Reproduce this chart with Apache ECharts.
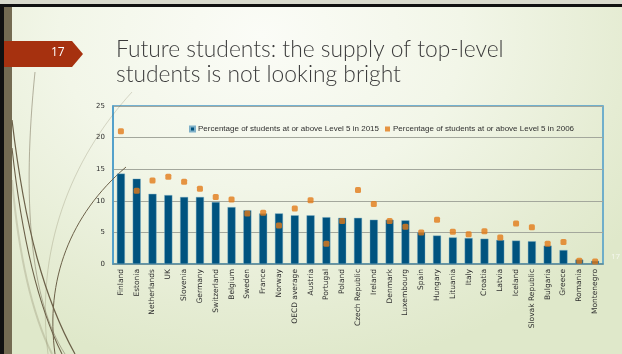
<!DOCTYPE html>
<html>
<head>
<meta charset="utf-8">
<script src="https://cdn.jsdelivr.net/npm/echarts@6/dist/echarts.min.js"></script>
<style>
  html, body { margin: 0; padding: 0; }
  #slide {
    width: 622px; height: 354px;
    background: radial-gradient(ellipse 72% 95% at 42% 10%, #fbfcf7 0%, #f2f6e8 45%, #e5ecd3 82%, #dfe8ca 100%);
  }
</style>
</head>
<body>
<div id="slide"></div>
<script>
// Countries in display order
const countries = ['Finland', 'Estonia', 'Netherlands', 'UK', 'Slovenia', 'Germany', 'Switzerland',
  'Belgium', 'Sweden', 'France', 'Norway', 'OECD average', 'Austria', 'Portugal', 'Poland',
  'Czech Republic', 'Ireland', 'Denmark', 'Luxembourg', 'Spain', 'Hungary', 'Lituania', 'Italy',
  'Croatia', 'Latvia', 'Iceland', 'Slovak Republic', 'Bulgaria', 'Greece', 'Romania', 'Montenegro'];

// Share of students at or above Level 5 (%)
const pct2015 = [14.3, 13.5, 11.1, 10.9, 10.6, 10.6, 9.8, 9.0, 8.5, 8.0, 8.0, 7.7, 7.7, 7.4, 7.3,
  7.3, 7.0, 7.0, 6.9, 5.0, 4.5, 4.2, 4.1, 4.0, 3.8, 3.7, 3.6, 2.9, 2.2, 0.7, 0.5];
const pct2006 = [21.0, 11.6, 13.2, 13.8, 13.0, 11.9, 10.6, 10.2, 8.0, 8.1, 6.1, 8.8, 10.1, 3.2, 6.8,
  11.7, 9.5, 6.8, 5.9, 5.0, 7.0, 5.1, 4.7, 5.2, 4.2, 6.4, 5.8, 3.2, 3.5, 0.5, 0.4];

const seriesNames = ['Percentage of students at or above Level 5 in 2015',
  'Percentage of students at or above Level 5 in 2006'];
const titleLines = ['Future students: the supply of top-level', 'students is not looking bright'];
const slideNumber = '17';
const yAxisRange = { min: 0, max: 25, interval: 5 };

const chart = echarts.init(document.getElementById('slide'), null, { renderer: 'canvas' });

const curveColor = '#6b6048';
const fadedCurve = 'rgba(120,110,80,0.25)';

chart.setOption({
  backgroundColor: 'transparent',
  animation: false,
  grid: {
    left: 113, top: 106, width: 490, height: 158,
    show: true, borderColor: '#4a9bc9', borderWidth: 1.5, backgroundColor: 'transparent'
  },
  legend: {
    top: 120, left: 184,
    itemWidth: 5, itemHeight: 5, itemGap: 6,
    textStyle: { fontSize: 8, color: '#2f2f2f', fontFamily: 'Liberation Sans', padding: [0, 0, 0, -2] },
    data: [
      { name: seriesNames[0], icon: 'rect' },
      { name: seriesNames[1], icon: 'rect' }
    ]
  },
  xAxis: {
    type: 'category',
    data: countries,
    axisTick: { show: false },
    axisLine: { lineStyle: { color: '#5f8f9c', width: 1.5 } },
    axisLabel: {
      rotate: 90, interval: 0, fontSize: 7.5, color: '#2f2f2f', margin: 5,
      fontFamily: 'DejaVu Sans'
    }
  },
  yAxis: {
    type: 'value',
    min: yAxisRange.min, max: yAxisRange.max, interval: yAxisRange.interval,
    axisLine: { show: true, lineStyle: { color: '#4a9bc9', width: 1.5 } },
    axisTick: { show: false },
    axisLabel: { fontSize: 7, color: '#2f2f2f', margin: 8, fontFamily: 'DejaVu Sans' },
    splitLine: { lineStyle: { color: '#a3a79c', width: 1.2 } }
  },
  series: [
    {
      name: seriesNames[0],
      type: 'bar',
      data: pct2015,
      barWidth: 8,
      itemStyle: { color: '#00537f', borderColor: '#7fb0c8', borderWidth: 0.4 }
    },
    {
      name: seriesNames[1],
      type: 'scatter',
      data: pct2006,
      symbol: 'roundRect',
      symbolSize: 6,
      z: 3,
      itemStyle: { color: '#e27a18' }
    }
  ],
  graphic: [
    // slide frame
    { type: 'rect', shape: { x: 0, y: 0, width: 622, height: 4 }, style: { fill: '#d9dacd' }, z: 10 },
    { type: 'rect', shape: { x: 0, y: 4, width: 622, height: 3 }, style: { fill: '#111111' }, z: 10 },
    { type: 'rect', shape: { x: 0, y: 4, width: 4, height: 350 }, style: { fill: '#111111' }, z: 10 },
    { type: 'rect', shape: { x: 4, y: 7, width: 8, height: 347 }, style: { fill: '#746b52' }, z: 10 },
    // decorative curves
    { type: 'bezierCurve', shape: { x1: 35, y1: 72, x2: 65, y2: 354, cpx1: 22, cpy1: 200, cpx2: 30, cpy2: 300 },
      style: { stroke: 'rgba(110,100,75,0.6)', lineWidth: 0.8, fill: null }, z: 1 },
    { type: 'bezierCurve', shape: { x1: 12, y1: 120, x2: 75, y2: 354, cpx1: 25, cpy1: 230, cpx2: 45, cpy2: 300 },
      style: { stroke: curveColor, lineWidth: 1.2, fill: null }, z: 1 },
    { type: 'bezierCurve', shape: { x1: 12, y1: 148, x2: 62, y2: 354, cpx1: 22, cpy1: 240, cpx2: 40, cpy2: 310 },
      style: { stroke: curveColor, lineWidth: 1.1, fill: null }, z: 1 },
    { type: 'bezierCurve', shape: { x1: 55, y1: 354, x2: 126, y2: 167, cpx1: 45, cpy1: 280, cpx2: 70, cpy2: 215 },
      style: { stroke: curveColor, lineWidth: 1, fill: null }, z: 1 },
    { type: 'bezierCurve', shape: { x1: 48, y1: 354, x2: 132, y2: 92, cpx1: 35, cpy1: 250, cpx2: 70, cpy2: 160 },
      style: { stroke: fadedCurve, lineWidth: 1, fill: null }, z: 1 },
    { type: 'bezierCurve', shape: { x1: 12, y1: 180, x2: 52, y2: 354, cpx1: 20, cpy1: 270, cpx2: 35, cpy2: 320 },
      style: { stroke: fadedCurve, lineWidth: 2, fill: null }, z: 1 },
    // slide number tab
    { type: 'polygon', shape: { points: [[4, 41], [72, 41], [83, 54], [72, 67], [4, 67]] },
      style: { fill: '#a6310f' }, z: 11 },
    { type: 'text', left: 51, top: 47,
      style: { text: slideNumber, fill: '#ffffff', font: '12px "Open Sans"' }, z: 12 },
    // title
    { type: 'text', left: 116, top: 38,
      style: { text: titleLines[0], fill: '#3c3c3c', font: '300 22.8px Lato' }, z: 12 },
    { type: 'text', left: 116, top: 63,
      style: { text: titleLines[1], fill: '#3c3c3c', font: '300 22.8px Lato' }, z: 12 },
    // faint footer number
    { type: 'text', left: 611, top: 253,
      style: { text: slideNumber, fill: 'rgba(255,255,255,0.7)', font: '8px "Open Sans"' }, z: 12 }
  ]
});
</script>
</body>
</html>
